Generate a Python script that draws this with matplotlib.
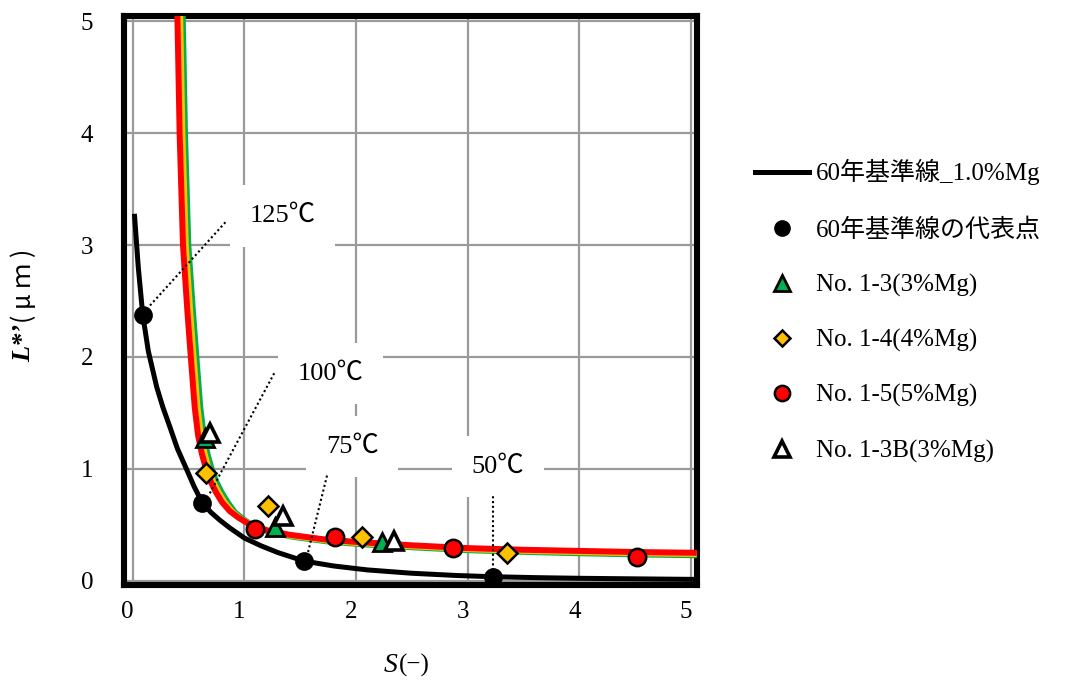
import matplotlib
matplotlib.use("Agg")
import matplotlib.pyplot as plt
import matplotlib.transforms as mtransforms
from matplotlib.lines import Line2D

plt.rcParams['font.family'] = ['Liberation Serif', 'Noto Sans CJK JP', 'DejaVu Sans']

# ---- data ----
# 60-year reference line (1.0%Mg)
ref_S = [0.015, 0.05, 0.09, 0.14, 0.215, 0.27, 0.334, 0.40, 0.48, 0.55, 0.623, 0.70, 0.78, 0.87,
         1.00, 1.15, 1.30, 1.534, 1.80, 2.10, 2.50, 2.90, 3.223, 3.60, 4.00, 4.50, 5.05]
ref_L = [3.28, 2.80, 2.375, 2.05, 1.73, 1.55, 1.37, 1.18, 1.00, 0.84, 0.696, 0.61, 0.54, 0.47,
         0.38, 0.31, 0.25, 0.174, 0.13, 0.095, 0.065, 0.045, 0.034, 0.026, 0.02, 0.015, 0.01]

# fitted curves for the test series
red_S = [0.400, 0.420, 0.450, 0.490, 0.520, 0.555, 0.585, 0.620, 0.656, 0.700, 0.745, 0.800, 0.870,
         0.950, 1.050, 1.200, 1.400, 1.700, 2.000, 2.500, 3.000, 3.500, 4.000, 4.500, 5.050]
red_L = [5.05, 4.00, 3.00, 2.40, 2.00, 1.55, 1.30, 1.13, 1.00, 0.88, 0.79, 0.70, 0.62,
         0.56, 0.50, 0.45, 0.41, 0.37, 0.345, 0.315, 0.29, 0.275, 0.265, 0.255, 0.248]
yel_S = [0.425, 0.445, 0.475, 0.515, 0.545, 0.580, 0.610, 0.645, 0.680, 0.722, 0.768, 0.822, 0.890,
         0.970, 1.070, 1.220, 1.420, 1.720, 2.020, 2.520, 3.020, 3.520, 4.020, 4.520, 5.050]
yel_L = [5.05, 4.00, 3.00, 2.40, 2.00, 1.55, 1.30, 1.13, 1.00, 0.88, 0.79, 0.70, 0.615,
         0.55, 0.49, 0.44, 0.40, 0.36, 0.335, 0.305, 0.28, 0.265, 0.254, 0.244, 0.237]
grn_S = [0.448, 0.468, 0.498, 0.540, 0.570, 0.605, 0.635, 0.670, 0.706, 0.750, 0.795, 0.850, 0.915,
         0.995, 1.090, 1.240, 1.440, 1.740, 2.040, 2.540, 3.040, 3.540, 4.040, 4.540, 5.050]
grn_L = [5.05, 4.00, 3.00, 2.40, 2.00, 1.55, 1.30, 1.13, 1.00, 0.88, 0.79, 0.70, 0.61,
         0.545, 0.48, 0.43, 0.39, 0.35, 0.325, 0.295, 0.27, 0.255, 0.243, 0.233, 0.226]

# representative points of the 60-year line
rep_S = [0.09, 0.623, 1.534, 3.223]
rep_L = [2.375, 0.696, 0.174, 0.034]
rep_temps = ["125℃", "100℃", "75℃", "50℃"]

# measured series
n13_S = [0.647, 1.274, 2.229]
n13_L = [1.275, 0.481, 0.347]
n14_S = [0.653, 1.214, 2.05, 3.348]
n14_L = [0.959, 0.666, 0.386, 0.243]
n15_S = [1.095, 1.811, 2.865, 4.518]
n15_L = [0.46, 0.392, 0.288, 0.213]
n13B_S = [0.692, 1.349, 2.339]
n13B_L = [1.32, 0.577, 0.356]

labels = ["60年基準線_1.0%Mg", "60年基準線の代表点", "No. 1-3(3%Mg)",
          "No. 1-4(4%Mg)", "No. 1-5(5%Mg)", "No. 1-3B(3%Mg)"]

# temperature annotation leaders (from point to label) and label positions
lead_start = [(0.155, 2.46), (0.69, 0.78), (1.57, 0.255), (3.225, 0.05)]
lead_end = [(0.835, 3.21), (1.27, 1.86), (1.74, 0.94), (3.225, 0.77)]
label_pos = [(1.34, 3.26), (1.77, 1.85), (1.965, 1.20), (3.27, 1.02)]

xticks = [0, 1, 2, 3, 4, 5]
yticks = [0, 1, 2, 3, 4, 5]

# ---- figure ----
W, H = 1071, 685
fig = plt.figure(figsize=(W / 100, H / 100), dpi=100)
ax = fig.add_axes([124 / W, 1 - 585 / H, (697 - 124) / W, (585 - 16) / H])
ax.set_xlim(-0.078, 5.052)
ax.set_ylim(-0.040, 5.049)
ax.set_xticks(xticks)
ax.set_yticks(yticks)
ax.grid(True, color='#9a9a9a', linewidth=1.6)
ax.set_axisbelow(True)
for sp in ax.spines.values():
    sp.set_linewidth(4.4)
    sp.set_color('black')
ax.tick_params(length=0, labelsize=18, colors='black', labelfontfamily='Liberation Serif')
ax.tick_params(axis='x', pad=11.5)
ax.tick_params(axis='y', pad=22)
shift = mtransforms.ScaledTranslation(-5 / 100, 0, fig.dpi_scale_trans)
for lab in ax.get_xticklabels():
    lab.set_transform(lab.get_transform() + shift)

# curves
ax.plot(grn_S, grn_L, color='#00B050', lw=4.3, zorder=3, solid_capstyle='butt')
ax.plot(yel_S, yel_L, color='#FFC000', lw=4.3, zorder=3.1, solid_capstyle='butt')
ax.plot(red_S, red_L, color='#FF0000', lw=4.3, zorder=3.2, solid_capstyle='butt')
ax.plot(ref_S, ref_L, color='black', lw=3.6, zorder=4, solid_capstyle='butt')

# leaders and temperature labels
for (x0, y0), (x1, y1), (tx, ty), t in zip(lead_start, lead_end, label_pos, rep_temps):
    ax.plot([x0, x1], [y0, y1], color='black', lw=1.5, linestyle=(0, (1, 1.3)), zorder=5)
    ax.text(tx, ty, t, fontsize=19, ha='center', va='center', zorder=2,
            bbox=dict(boxstyle='square,pad=0.75', fc='white', ec='none'))

# markers
ax.plot(rep_S, rep_L, 'o', ms=12, mfc='black', mec='black', mew=1.5, zorder=6, linestyle='none')
ax.plot(n13_S, n13_L, '^', ms=12.5, mfc='#00B050', mec='black', mew=2, zorder=6, linestyle='none')
ax.plot(n14_S, n14_L, 'D', ms=10, mfc='#FFC000', mec='black', mew=1.8, zorder=6, linestyle='none')
ax.plot(n15_S, n15_L, 'o', ms=12.5, mfc='#FF0000', mec='black', mew=1.8, zorder=6, linestyle='none')
ax.plot(n13B_S, n13B_L, '^', ms=12.5, mfc='white', mec='black', mew=2.6, zorder=6.5, linestyle='none')

# axis labels
fig.text(398 / W, 1 - 665 / H, "S", fontsize=20, style='italic', ha='right', va='center',
         family='Liberation Serif')
fig.text(399 / W, 1 - 665 / H, "(−)", fontsize=18, ha='left', va='center')
fig.text(24 / W, 1 - 343 / H, "L*’", fontsize=19, style='italic', weight='bold', rotation=90,
         ha='center', va='center', family='Liberation Serif')
fig.text(24 / W, 1 - 286 / H, "( μ ｍ )", fontsize=18, rotation=90, ha='center', va='center',
         family=['Noto Sans CJK JP', 'DejaVu Sans'])

# legend
handles = [
    Line2D([], [], color='black', lw=3.6),
    Line2D([], [], marker='o', ms=11, mfc='black', mec='black', linestyle='none'),
    Line2D([], [], marker='^', ms=11, mfc='#00B050', mec='black', mew=2, linestyle='none'),
    Line2D([], [], marker='D', ms=8.5, mfc='#FFC000', mec='black', mew=1.8, linestyle='none'),
    Line2D([], [], marker='o', ms=11, mfc='#FF0000', mec='black', mew=1.8, linestyle='none'),
    Line2D([], [], marker='^', ms=11, mfc='white', mec='black', mew=2.6, linestyle='none'),
]
fig.legend(handles, labels, loc='center left', bbox_to_anchor=(755 / W, 1 - 311 / H),
           frameon=False, fontsize=18, handlelength=2.15, handletextpad=0.3,
           labelspacing=1.29, borderpad=0, borderaxespad=0)

fig.savefig("out.png", dpi=100)
